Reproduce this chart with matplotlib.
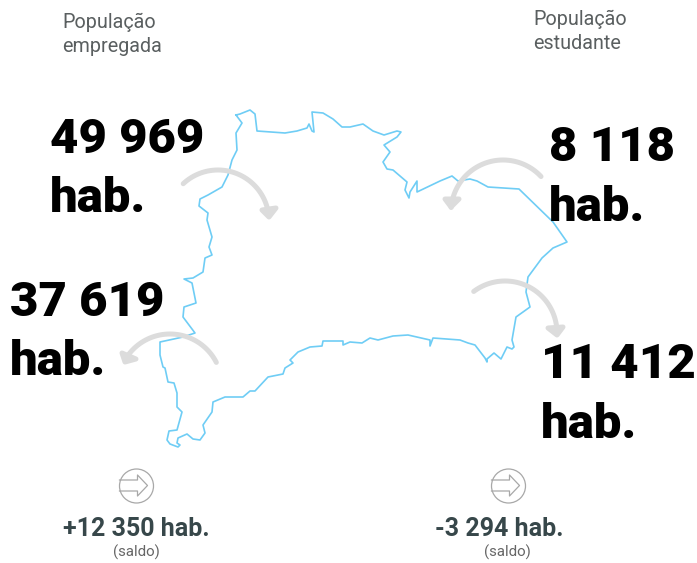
#!/usr/bin/env python3
"""Commuting balance map: employed and student population flows."""

import numpy as np
import matplotlib
matplotlib.use('Agg')
import matplotlib.pyplot as plt
from matplotlib.patches import Circle

plt.rcParams['font.family'] = ['Roboto', 'DejaVu Sans']

# ── Data ──────────────────────────────────────────────────────────────────
headers = ["População\nempregada", "População\nestudante"]
flow_values = ["49 969", "37 619", "8 118", "11 412"]
balance_values = ["+12 350 hab.", "-3 294 hab."]
balance_note = "(saldo)"
unit = "hab."

outline_x = [236, 240, 250, 255, 257, 285, 297, 307, 309, 312, 314, 312, 323, 333, 342,
             350, 363, 373, 384, 397, 401, 397, 384, 390, 383, 387, 393, 407, 405, 409,
             410, 417, 417, 440, 452, 458, 470, 477, 488, 519, 553, 567, 553, 542, 528,
             526, 530, 516, 512, 514, 512, 507, 501, 494, 487, 487, 485, 475, 468, 460,
             433, 430, 430, 408, 393, 378, 370, 362, 350, 343, 343, 323, 322, 310, 298,
             290, 293, 285, 283, 268, 255, 250, 243, 225, 213, 212, 203, 205, 200, 193,
             187, 178, 177, 180, 178, 170, 167, 169, 177, 182, 177, 177, 174, 168, 165,
             163, 160, 160, 183, 195, 183, 184, 196, 192, 184, 193, 203, 205, 212, 209,
             212, 207, 208, 199, 200, 208, 222, 228, 232, 237, 236, 242, 236]
outline_y = [115, 114, 110, 114, 131, 133, 131, 128, 124, 131, 132, 112, 113, 119, 127,
             127, 124, 131, 135, 131, 132, 137, 145, 152, 162, 169, 170, 182, 190, 198,
             192, 181, 192, 181, 176, 181, 179, 181, 187, 189, 222, 242, 248, 258, 277,
             292, 307, 317, 340, 347, 349, 347, 359, 353, 359, 362, 358, 345, 343, 340,
             338, 346, 340, 335, 336, 340, 338, 343, 342, 345, 341, 341, 346, 347, 352,
             360, 363, 368, 374, 377, 391, 391, 397, 397, 402, 412, 425, 433, 440, 439,
             434, 438, 443, 445, 447, 444, 440, 431, 430, 412, 407, 393, 383, 382, 368,
             367, 355, 342, 337, 333, 317, 307, 303, 283, 279, 278, 272, 258, 255, 247,
             237, 220, 213, 206, 199, 195, 187, 175, 160, 150, 133, 123, 115]

# ── Setup ─────────────────────────────────────────────────────────────────
fig = plt.figure(figsize=(6.97, 5.63), dpi=100)
ax = fig.add_axes([0, 0, 1, 1])
ax.set_xlim(0, 697)
ax.set_ylim(563, 0)
ax.axis('off')

ax.plot(outline_x, outline_y, color='#6fcdf5', lw=1.2, zorder=1,
        solid_joinstyle='round')

# ── Curved arrows: centre, radius, start/end angle, chevron ───────────────
arrows = [((218, 221), 51, 133, 8, [(262, 210), (269, 217), (276, 208)]),
          ((503, 212), 52, 43, 175, [(445, 199), (451, 207), (459, 199)]),
          ((170, 386), 52, 27, 144, [(122, 353), (125, 362), (136, 359)]),
          ((505, 333), 52, 127, 4, [(548, 328), (557, 335), (563, 327)])]
for (cx, cy), r, a0, a1, head in arrows:
    t = np.radians(np.linspace(a0, a1, 60))
    ax.plot(cx + r * np.cos(t), cy - r * np.sin(t), color='#dcdcdc', lw=3.6,
            solid_capstyle='round', zorder=2)
    ax.fill(*zip(*head), color='#dcdcdc', lw=3.6, joinstyle='round', zorder=2)

# ── Big numbers ───────────────────────────────────────────────────────────
positions = [(50, 153, 212), (10, 316, 375), (549, 161, 221), (541, 378, 438)]
for value, (x, y1, y2) in zip(flow_values, positions):
    for y, label in ((y1, value), (y2, unit)):
        ax.text(x, y, label, fontsize=35.4, fontweight='black', color='black',
                ha='left', va='baseline', zorder=3)

# ── Headers ───────────────────────────────────────────────────────────────
for x, y, header in [(62.5, 28, headers[0]), (533.5, 25, headers[1])]:
    first, second = header.split('\n')
    ax.text(x, y, first, fontsize=14.2, color='#5a5f60', va='baseline')
    ax.text(x, y + 24, second, fontsize=14.2, color='#5a5f60', va='baseline')

# ── Balance icons and totals ──────────────────────────────────────────────
for cx, tx, nx, total in [(136.5, 136, 136, balance_values[0]),
                          (508.5, 499, 507, balance_values[1])]:
    ax.add_patch(Circle((cx, 486), 17, fill=False, ec='#a8a8a8', lw=0.9))
    ax.plot([cx - 17, cx + 1, cx + 1, cx + 11, cx + 1, cx + 1, cx - 17],
            [480, 480, 475, 485.5, 496, 491, 491], color='#a8a8a8', lw=0.9)
    ax.text(tx, 536, total, fontsize=18, fontweight='bold', color='#37474a',
            ha='center', va='baseline')
    ax.text(nx, 557, balance_note, fontsize=10.8, color='#666666', ha='center', va='baseline')

fig.savefig("out.png", dpi=100)
plt.close(fig)
